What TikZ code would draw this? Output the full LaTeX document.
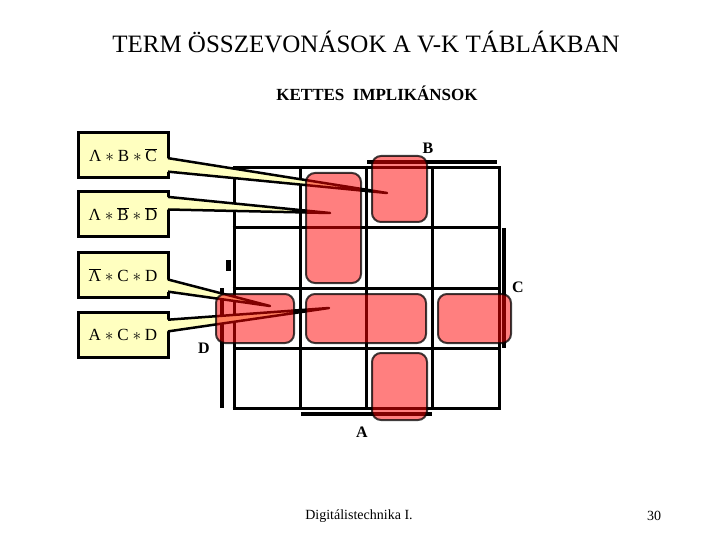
\documentclass[tikz,border=0pt]{standalone}
\usepackage{fontspec}
\setmainfont{Liberation Serif}
\usepackage{tikz}
\usetikzlibrary{calc}
\definecolor{termfill}{RGB}{255,255,192}
\definecolor{loopred}{RGB}{255,0,0}
\tikzset{
  termbox/.style={draw, line width=3pt, fill=termfill, minimum width=90pt, minimum height=45pt, inner sep=0pt, outer sep=0pt, font=\fontsize{17}{19}\selectfont},
  callout/.style={fill=termfill},
  calledge/.style={line width=2.5pt, line join=round},
  gridline/.style={line width=3pt},
  kloop/.style={fill=loopred, fill opacity=0.5, draw=black, draw opacity=0.75, line width=2pt, rounded corners=9pt},
  varbar/.style={line width=4pt},
  varlab/.style={font=\fontsize{16}{18}\selectfont\bfseries},
}

\begin{document}
\begin{tikzpicture}[x=1pt, y=-1pt]
\useasboundingbox (0,0) rectangle (720,540);

% Titles
\node (title) at (366,42) {\fontsize{25}{28}\selectfont TERM ÖSSZEVONÁSOK A V-K TÁBLÁKBAN};
\node (subtitle) at (377,93) {\fontsize{17}{19}\selectfont\bfseries KETTES\ \ IMPLIKÁNSOK};

% Grid lines
\foreach \x in {234,300,366,432,499}
  \draw[gridline] (\x,168) -- (\x,408);
\foreach \y in {168,228,288,348,408}
  \draw[gridline] (232.5,\y) -- (500.5,\y);

% Variable bars
\draw[varbar] (367,162) -- (497,162);
\draw[varbar] (504,228) -- (504,348);
\draw[varbar] (301,414) -- (432,414);
\draw[varbar] (222,288) -- (222,408);
\fill (226,260) rectangle (231,271);

% Variable labels
\node[varlab] (labB) at (428,148) {B};
\node[varlab] (labC) at (518,287) {C};
\node[varlab] (labD) at (204,348) {D};
\node[varlab] (labA) at (362,432) {A};

% Term boxes
\node[termbox] (b1) at (123,155) {$\mbox{Λ}\ast\mbox{B}\ast\overline{\mbox{C}}$};
\node[termbox] (b2) at (123,214) {$\mbox{Λ}\ast\overline{\mbox{B}}\ast\overline{\mbox{D}}$};
\node[termbox] (b3) at (123,275) {$\overline{\mbox{Λ}}\ast\mbox{C}\ast\mbox{D}$};
\node[termbox] (b4) at (123,335) {$\mbox{A}\ast\mbox{C}\ast\mbox{D}$};

% Callout tips
\coordinate (t1) at (387,193);
\coordinate (t2) at (330,213);
\coordinate (t3) at (270,306);
\coordinate (t4) at (329,308);

% Callout wedges
\fill[callout] ($(b1.north east)!0.57!(b1.south east)+(-1.6,0)$) -- (t1) -- ($(b1.north east)!0.87!(b1.south east)+(-1.6,0)$) -- cycle;
\draw[calledge] ($(b1.north east)!0.57!(b1.south east)$) -- (t1) -- ($(b1.north east)!0.87!(b1.south east)$);
\fill[callout] ($(b2.north east)!0.12!(b2.south east)+(-1.6,0)$) -- (t2) -- ($(b2.north east)!0.4!(b2.south east)+(-1.6,0)$) -- cycle;
\draw[calledge] ($(b2.north east)!0.12!(b2.south east)$) -- (t2) -- ($(b2.north east)!0.4!(b2.south east)$);
\fill[callout] ($(b3.north east)!0.6!(b3.south east)+(-1.6,0)$) -- (t3) -- ($(b3.north east)!0.87!(b3.south east)+(-1.6,0)$) -- cycle;
\draw[calledge] ($(b3.north east)!0.6!(b3.south east)$) -- (t3) -- ($(b3.north east)!0.87!(b3.south east)$);
\fill[callout] ($(b4.north east)!0.16!(b4.south east)+(-1.6,0)$) -- (t4) -- ($(b4.north east)!0.42!(b4.south east)+(-1.6,0)$) -- cycle;
\draw[calledge] ($(b4.north east)!0.16!(b4.south east)$) -- (t4) -- ($(b4.north east)!0.42!(b4.south east)$);

% Loops
\draw[kloop] (306,173) rectangle (361,283);
\draw[kloop] (372,156) rectangle (427,222);
\draw[kloop] (372,353) rectangle (427,420);
\draw[kloop] (306,294) rectangle (426,343);
\draw[kloop] (216,294) rectangle (294,343);
\draw[kloop] (438,294) rectangle (511,343);

% Footer
\node (footer) at (359,516) {\fontsize{14}{16}\selectfont Digitálistechnika I.};
\node (pagenum) at (654,516) {\fontsize{14}{16}\selectfont 30};

\end{tikzpicture}
\end{document}
